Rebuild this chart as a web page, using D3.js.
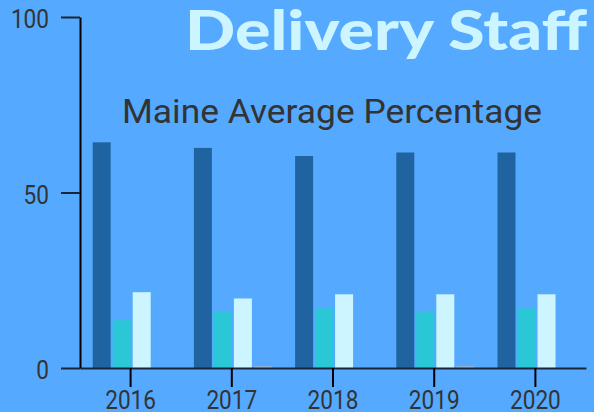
<!DOCTYPE html>
<html>
<head>
<meta charset="utf-8">
<script src="https://cdn.jsdelivr.net/npm/d3@7"></script>
<style>
  html, body { margin: 0; padding: 0; background: #55aaff; }
  svg { display: block; }
</style>
</head>
<body>
<svg id="chart"></svg>
<script>
const years = ["2016", "2017", "2018", "2019", "2020"];
const seriesNames = ["dark", "teal", "light", "gray"];
const darkValues = [64.3, 62.7, 60.4, 61.4, 61.4];
const tealValues = [13.6, 15.9, 17.0, 15.9, 17.0];
const lightValues = [21.6, 19.8, 21.0, 21.0, 21.0];
const grayValues = [0, 0.5, 0, 0.5, 0];
const yTicks = [0, 50, 100];

const colors = ["#1f64a0", "#2ac8d6", "#ccf5ff", "#a4b6cc"];

const W = 594, H = 412;
const margin = { top: 17, right: 8, bottom: 44, left: 80 };
const width = W - margin.left - margin.right;
const height = H - margin.top - margin.bottom;

const svg = d3.select("#chart").attr("width", W).attr("height", H);

svg.append("rect").attr("width", W).attr("height", H).attr("fill", "#55aaff");

const g = svg.append("g").attr("transform", `translate(${margin.left},${margin.top})`);

const x = d3.scaleBand().domain(years).range([0, width]).padding(0);
const xSub = d3.scaleBand().domain(seriesNames).range([12.7, 90.7]).paddingInner(0.1);
const y = d3.scaleLinear().domain([0, 100]).range([height, 0]);

const rows = years.map((yr, i) => ({
  year: yr,
  values: [darkValues[i], tealValues[i], lightValues[i], grayValues[i]]
}));

// bars
const groups = g.selectAll(".grp")
  .data(rows)
  .enter()
  .append("g")
  .attr("transform", (d) => `translate(${x(d.year)},0)`);

groups.selectAll("rect")
  .data((d) => d.values.map((v, i) => ({ key: seriesNames[i], v, i })))
  .enter()
  .append("rect")
  .attr("x", (d) => xSub(d.key))
  .attr("width", xSub.bandwidth())
  .attr("y", (d) => y(d.v))
  .attr("height", (d) => y(0) - y(d.v))
  .attr("fill", (d) => colors[d.i]);

// x axis
const xAxis = g.append("g")
  .attr("transform", `translate(0,${height})`)
  .call(d3.axisBottom(x).tickSize(19).tickSizeOuter(0).tickPadding(3));
xAxis.select(".domain").attr("stroke", "#1a2633").attr("stroke-width", 2);
xAxis.selectAll(".tick line").attr("stroke", "#000").attr("stroke-width", 2);
xAxis.selectAll(".tick text")
  .attr("fill", "#333")
  .attr("font-family", "Roboto, sans-serif")
  .attr("font-size", 26)
  .attr("dy", "0.72em")
  .attr("transform", "scale(0.87,1)");

// y axis
const yAxis = g.append("g")
  .call(d3.axisLeft(y).tickValues(yTicks).tickSize(19).tickPadding(12).tickSizeOuter(0));
yAxis.select(".domain").attr("stroke", "#000").attr("stroke-width", 2);
yAxis.selectAll(".tick line").attr("stroke", "#1a2633").attr("stroke-width", 2);
yAxis.selectAll(".tick text")
  .attr("fill", "#333")
  .attr("font-family", "Roboto, sans-serif")
  .attr("font-size", 26)
  .attr("dy", "0.42em")
  .attr("transform", "scale(0.87,1)")
  .attr("x", -31 / 0.87);

// titles
svg.append("text")
  .attr("x", 185)
  .attr("y", 50)
  .attr("fill", "#ccf5ff")
  .attr("font-family", "Lato, 'DejaVu Sans', sans-serif")
  .attr("font-weight", 900)
  .attr("font-size", 55)
  .attr("textLength", 402)
  .attr("lengthAdjust", "spacingAndGlyphs")
  .text("Delivery Staff");

svg.append("text")
  .attr("x", 122)
  .attr("y", 123)
  .attr("fill", "#333")
  .attr("font-family", "Roboto, sans-serif")
  .attr("font-size", 33)
  .attr("textLength", 420)
  .attr("lengthAdjust", "spacingAndGlyphs")
  .text("Maine Average Percentage");
</script>
</body>
</html>
